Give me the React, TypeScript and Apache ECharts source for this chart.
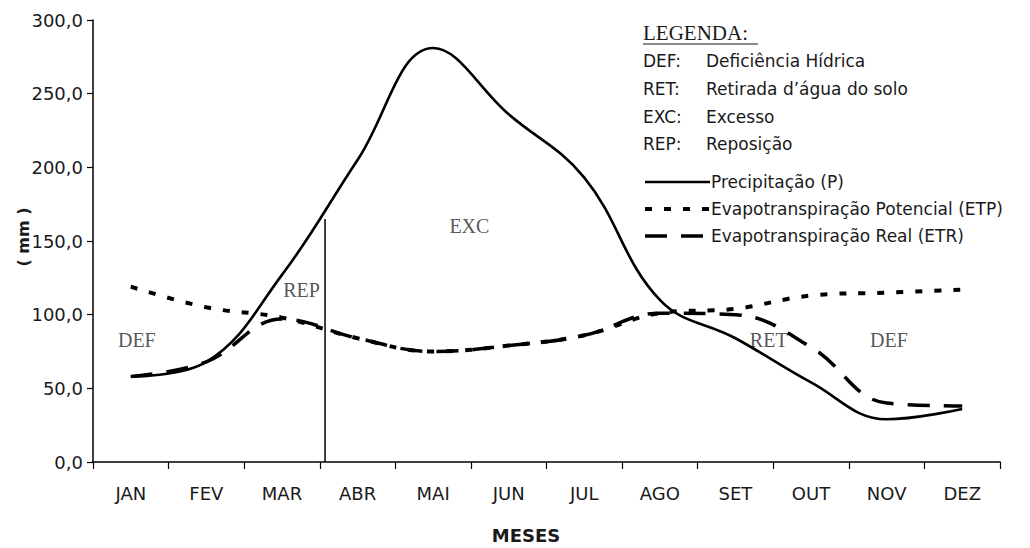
import React, { useEffect, useRef } from 'react';
import * as echarts from 'echarts';

const months = ['JAN', 'FEV', 'MAR', 'ABR', 'MAI', 'JUN', 'JUL', 'AGO', 'SET', 'OUT', 'NOV', 'DEZ'];
const precipitacao = [58, 68, 127, 205, 281, 236, 193, 110, 84, 54, 29, 36];
const etp = [119, 105, 98, 84, 75, 79, 86, 101, 104, 113, 115, 117];
const etr = [58, 68, 97, 84, 75, 79, 86, 101, 100, 78, 40, 38];
const seriesNames = ['Precipitação (P)', 'Evapotranspiração Potencial (ETP)', 'Evapotranspiração Real (ETR)'];
const divisorX = 2.57;
const divisorTop = 165;
const annotations = [
  { name: 'DEF', value: [0.08, 83] },
  { name: 'REP', value: [2.26, 117] },
  { name: 'EXC', value: [4.48, 160] },
  { name: 'RET', value: [8.44, 83] },
  { name: 'DEF', value: [10.03, 83] },
];
const legendTitle = 'LEGENDA:';
const legendDefs = [
  ['DEF:', 'Deficiência Hídrica'],
  ['RET:', 'Retirada d’água do solo'],
  ['EXC:', 'Excesso'],
  ['REP:', 'Reposição'],
];
const yAxisName = '( mm )';
const xAxisName = 'MESES';

const SANS = 'DejaVu Sans';
const SERIF = 'Liberation Serif';
const TXT = '#1a1a1a';

const styles = [
  { width: 2.6, dash: null as number[] | null },
  { width: 4, dash: [7, 12] },
  { width: 3.5, dash: [22, 14] },
];

export default function App() {
  const ref = useRef<HTMLDivElement>(null);
  useEffect(() => {
    const chart = echarts.init(ref.current!, null, { renderer: 'svg' });
    const defRows = [61, 89, 117, 144];
    const legendRows = [182, 209, 236];
    const graphic: any[] = [
      {
        type: 'text', left: 643, top: 22,
        style: { text: legendTitle, font: `21px "${SERIF}"`, fill: TXT },
      },
      {
        type: 'line', shape: { x1: 643, y1: 44, x2: 758, y2: 44 },
        style: { stroke: TXT, lineWidth: 1.2 },
      },
      {
        type: 'text', x: 23, y: 237, rotation: Math.PI / 2,
        style: { text: yAxisName, font: `bold 16px "${SANS}"`, fill: TXT, align: 'center', verticalAlign: 'middle' },
      },
      {
        type: 'text', x: 526, y: 535,
        style: { text: xAxisName, font: `bold 18px "${SANS}"`, fill: TXT, align: 'center', verticalAlign: 'middle' },
      },
    ];
    legendDefs.forEach((d, i) => {
      graphic.push({
        type: 'text', x: 643, y: defRows[i],
        style: { text: d[0], font: `17px "${SANS}"`, fill: TXT, verticalAlign: 'middle' },
      });
      graphic.push({
        type: 'text', x: 706, y: defRows[i],
        style: { text: d[1], font: `17px "${SANS}"`, fill: TXT, verticalAlign: 'middle' },
      });
    });
    seriesNames.forEach((n, i) => {
      const st: any = { stroke: '#000', lineWidth: styles[i].width, lineCap: 'butt' };
      if (styles[i].dash) st.lineDash = styles[i].dash;
      graphic.push({
        type: 'line', shape: { x1: 645, y1: legendRows[i], x2: 710, y2: legendRows[i] },
        style: st,
      });
      graphic.push({
        type: 'text', x: 711, y: legendRows[i],
        style: { text: n, font: `17px "${SANS}"`, fill: TXT, verticalAlign: 'middle' },
      });
    });

    const seriesLine = (i: number, data: number[]) => ({
      name: seriesNames[i], type: 'line', data, smooth: 0.4, symbol: 'none', z: i === 0 ? 4 : 3,
      lineStyle: { color: '#000', width: styles[i].width, type: styles[i].dash || 'solid', cap: 'butt' },
      itemStyle: { color: '#000' },
    });

    chart.setOption({
      animation: false,
      backgroundColor: '#fff',
      grid: { left: 93, right: 30, top: 20, bottom: 86, containLabel: false },
      xAxis: [
        {
          type: 'category',
          data: months,
          boundaryGap: true,
          axisLine: { show: true, onZero: false, lineStyle: { color: '#000', width: 1.5 } },
          axisTick: { show: true, length: 7, lineStyle: { color: '#000', width: 1.2 } },
          axisLabel: { margin: 22, fontFamily: SANS, fontSize: 18, color: TXT },
          splitLine: { show: false },
        },
        {
          type: 'value', min: -0.5, max: 11.5, show: false,
          axisLine: { onZero: false },
        },
      ],
      yAxis: {
        type: 'value',
        min: 0,
        max: 300,
        interval: 50,
        axisLine: { show: true, onZero: false, lineStyle: { color: '#000', width: 1.5 } },
        axisTick: { show: true, length: 6, lineStyle: { color: '#000', width: 1.2 } },
        axisLabel: {
          margin: 10, fontFamily: SANS, fontSize: 18, color: TXT,
          formatter: (v: number) => v.toFixed(1).replace('.', ','),
        },
        splitLine: { show: false },
      },
      graphic,
      series: [
        seriesLine(0, precipitacao),
        seriesLine(1, etp),
        seriesLine(2, etr),
        {
          name: 'divisor', type: 'line', xAxisIndex: 1, symbol: 'none', silent: true,
          data: [[divisorX, 0], [divisorX, divisorTop]],
          lineStyle: { color: '#000', width: 1.5 },
        },
        {
          name: 'anotacoes', type: 'scatter', xAxisIndex: 1, symbolSize: 0, silent: true,
          itemStyle: { color: 'rgba(0,0,0,0)' },
          data: annotations,
          label: {
            show: true, position: 'inside', formatter: '{b}',
            fontFamily: SERIF, fontSize: 20, color: '#2a2a2a',
          },
        },
      ],
    });
    return () => chart.dispose();
  }, []);
  return (
    <div
      ref={ref}
      style={{ position: 'fixed', left: 0, top: 0, width: 1030, height: 548, background: '#fff' }}
    />
  );
}
